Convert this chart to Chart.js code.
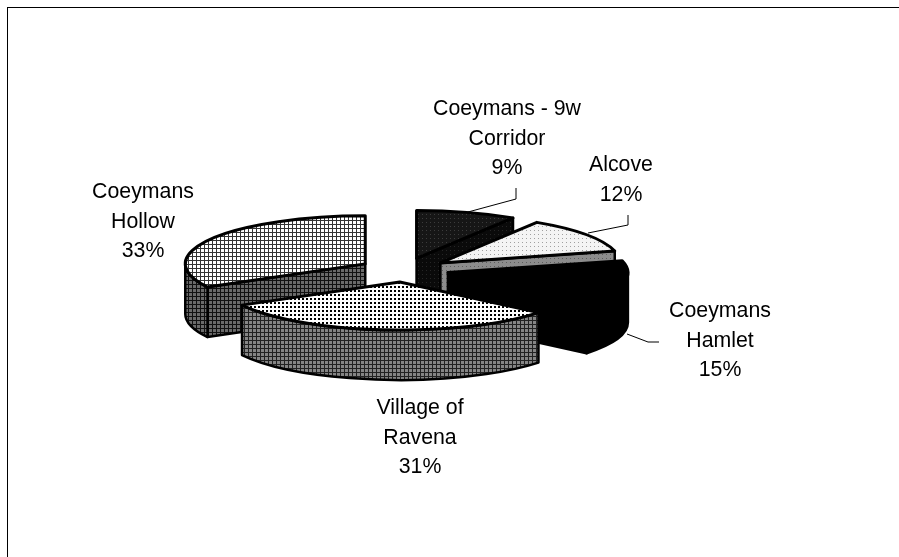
<!DOCTYPE html>
<html>
<head>
<meta charset="utf-8">
<title>Coeymans pie</title>
<style>
    html, body { margin: 0; padding: 0; background: #fff; overflow: hidden; }
    #frame { position: absolute; left: 7px; top: 7px; right: 0; bottom: 0; border-top: 1.5px solid #000; border-left: 1.5px solid #000; }
    canvas { position: absolute; left: 0; top: 0; }
</style>
<script src="https://cdn.jsdelivr.net/npm/chart.js@4/dist/chart.umd.min.js"></script>
</head>
<body>
<div id="frame"></div>
<canvas id="pie" width="899" height="557"></canvas>
<script>
const categories = ['Coeymans - 9w Corridor', 'Alcove', 'Coeymans Hamlet', 'Village of Ravena', 'Coeymans Hollow'];
const shares = [9, 12, 15, 31, 33];
const labelLines = [['Coeymans - 9w', 'Corridor'], ['Alcove'], ['Coeymans', 'Hamlet'], ['Village of', 'Ravena'], ['Coeymans', 'Hollow']];

// where the label blocks sit: centre x, centre y of first line
const labelAnchors = [[507, 109], [621, 165], [720, 311], [420, 408], [143, 192]];
const leaderLines = [
    [[468, 212], [516, 199], [516, 188]],
    [[588, 233], [628, 225], [628, 215]],
    [[627, 334], [648, 342], [659, 342]],
    null,
    null
];

const squash = 0.267;
const depth = 50;
const explode = 45;

// [base, line colour, dot colour, dot size] for 4px tiles
const topFills = [
    ['#161616', null, '#3c3c3c', 1],
    ['#f4f4f4', null, '#a0a0a0', 1],
    ['#000000', null, null, 0],
    ['#ffffff', null, '#000000', 2],
    ['#ffffff', '#333333', null, 0]
];
const sideFills = [
    ['#0a0a0a', null, '#262626', 1],
    ['#8c8c8c', null, '#5c5c5c', 1],
    ['#000000', null, null, 0],
    ['#858585', '#222222', null, 0],
    ['#6a6a6a', '#111111', null, 0]
];

function makeTile(ctx, fill) {
    const tile = document.createElement('canvas');
    tile.width = 4;
    tile.height = 4;
    const t = tile.getContext('2d');
    t.fillStyle = fill[0];
    t.fillRect(0, 0, 4, 4);
    if (fill[1]) {
        t.fillStyle = fill[1];
        t.fillRect(0, 0, 4, 1);
        t.fillRect(0, 0, 1, 4);
    }
    if (fill[2]) {
        t.fillStyle = fill[2];
        t.fillRect(2, 2, fill[3], fill[3]);
    }
    return ctx.createPattern(tile, 'repeat');
}

const piePlugin = {
    id: 'tiltedPie',
    afterDatasetsDraw(chart) {
        const ctx = chart.ctx;
        const arcs = chart.getDatasetMeta(0).data;
        const order = arcs.map((arc, i) => i).sort((a, b) => {
            const midA = (arcs[a].startAngle + arcs[a].endAngle) / 2;
            const midB = (arcs[b].startAngle + arcs[b].endAngle) / 2;
            return Math.sin(midA) - Math.sin(midB);
        });

        ctx.save();
        ctx.lineJoin = 'round';
        order.forEach(i => {
            const arc = arcs[i];
            const start = arc.startAngle;
            const end = arc.endAngle;
            const mid = (start + end) / 2;
            const cx = arc.x + Math.cos(mid) * explode;
            const cy = arc.y + Math.sin(mid) * explode * squash;
            const r = arc.outerRadius;
            const ry = r * squash;
            const px = a => cx + Math.cos(a) * r;
            const py = a => cy + Math.sin(a) * ry;
            const side = makeTile(ctx, sideFills[i]);

            const paint = (fill, width) => {
                ctx.fillStyle = fill;
                ctx.fill();
                ctx.strokeStyle = '#000';
                ctx.lineWidth = width;
                ctx.stroke();
            };

            // radial walls
            const wall = a => {
                ctx.beginPath();
                ctx.moveTo(cx, cy);
                ctx.lineTo(px(a), py(a));
                ctx.lineTo(px(a), py(a) + depth);
                ctx.lineTo(cx, cy + depth);
                ctx.closePath();
                paint(side, 2.5);
            };
            if (Math.cos(start) < -1e-6) wall(start);
            if (Math.cos(end) > 1e-6) wall(end);

            // outer rim, only the front half shows
            const rimStart = Math.max(start, 0);
            const rimEnd = Math.min(end, Math.PI);
            if (rimEnd > rimStart) {
                ctx.beginPath();
                ctx.ellipse(cx, cy, r, ry, 0, rimStart, rimEnd);
                ctx.lineTo(px(rimEnd), py(rimEnd) + depth);
                ctx.ellipse(cx, cy + depth, r, ry, 0, rimEnd, rimStart, true);
                ctx.closePath();
                paint(side, 2.5);
            }

            // top face
            ctx.beginPath();
            ctx.moveTo(cx, cy);
            ctx.ellipse(cx, cy, r, ry, 0, start, end);
            ctx.closePath();
            paint(makeTile(ctx, topFills[i]), 3);
        });

        // leader lines
        ctx.strokeStyle = '#000';
        ctx.lineWidth = 1;
        leaderLines.forEach(line => {
            if (!line) return;
            ctx.beginPath();
            line.forEach((p, n) => n ? ctx.lineTo(p[0], p[1]) : ctx.moveTo(p[0], p[1]));
            ctx.stroke();
        });

        // labels
        ctx.fillStyle = '#000';
        ctx.font = '21.3px "Liberation Sans"';
        ctx.textAlign = 'center';
        ctx.textBaseline = 'middle';
        labelLines.forEach((lines, i) => {
            const [x, y] = labelAnchors[i];
            const rows = lines.concat(shares[i] + '%');
            rows.forEach((text, n) => ctx.fillText(text, x, y + n * 29.7));
        });
        ctx.restore();
    }
};

new Chart(document.getElementById('pie'), {
    type: 'pie',
    data: {
        labels: categories,
        datasets: [{
            data: shares,
            backgroundColor: 'rgba(0,0,0,0)',
            borderWidth: 0
        }]
    },
    options: {
        responsive: false,
        animation: false,
        layout: { padding: { left: 0, right: 91, top: 90, bottom: 107 } },
        plugins: { legend: { display: false }, tooltip: { enabled: false } }
    },
    plugins: [piePlugin]
});
</script>
</body>
</html>
